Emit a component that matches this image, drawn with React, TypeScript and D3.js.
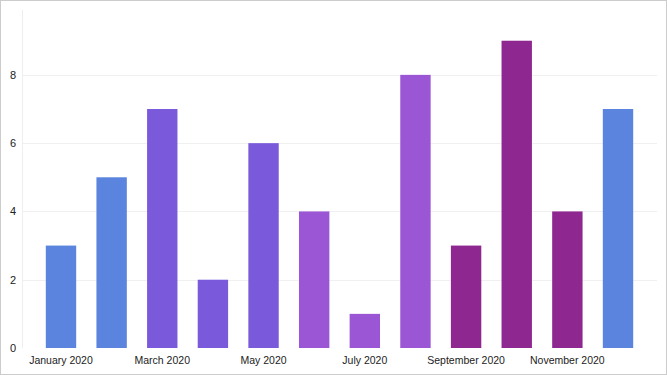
import React, {useEffect, useRef} from 'react';
import * as d3 from 'd3';

const months = ['January 2020', 'February 2020', 'March 2020', 'April 2020', 'May 2020', 'June 2020',
    'July 2020', 'August 2020', 'September 2020', 'October 2020', 'November 2020', 'December 2020']
const counts = [3, 5, 7, 2, 6, 4, 1, 8, 3, 9, 4, 7]
const seasons = ['winter', 'winter', 'spring', 'spring', 'spring', 'summer',
    'summer', 'summer', 'fall', 'fall', 'fall', 'winter']
const seasonColors = {winter: '#5a84de', spring: '#7a5adb', summer: '#9b56d5', fall: '#8f2790'}
const yTicks = [0, 2, 4, 6, 8]

const width = 667
const height = 375
const font = '"Liberation Sans", Arial, sans-serif'

const dimensions = {
    width: width,
    height: height,
    margin: {top: 10, right: 10, bottom: 27, left: 22}
}
const boundedWidth = dimensions.width - dimensions.margin.left - dimensions.margin.right
const boundedHeight = dimensions.height - dimensions.margin.top - dimensions.margin.bottom

const App = () => {

    const svgRef = useRef(null)

    useEffect(() => {
        document.body.style.margin = '0'

        const svg = d3.select(svgRef.current)
        svg.selectAll('*').remove()

        svg.append('rect')
            .attr('x', 0.5).attr('y', 0.5)
            .attr('width', width - 1).attr('height', height - 1)
            .attr('fill', '#fff')
            .attr('stroke', '#cccccc')

        const bounds = svg.append('g')
            .attr('transform', `translate(${dimensions.margin.left}, ${dimensions.margin.top})`)

        const yScale = d3.scaleLinear()
            .domain([0, d3.max(counts) * 1.1])
            .range([boundedHeight, 0])

        const xScale = d3.scaleBand()
            .domain(months)
            .range([0, boundedWidth])
            .paddingInner(0.4)
            .paddingOuter(0.47)

        // gridlines
        bounds.selectAll('.grid')
            .data(yTicks.filter(d => d > 0))
            .join('line')
            .attr('class', 'grid')
            .attr('x1', 0)
            .attr('x2', boundedWidth)
            .attr('y1', d => Math.round(yScale(d)) + 0.5)
            .attr('y2', d => Math.round(yScale(d)) + 0.5)
            .attr('stroke', '#f0f0f0')

        bounds.append('line')
            .attr('x1', 0.5).attr('x2', 0.5)
            .attr('y1', 0).attr('y2', boundedHeight)
            .attr('stroke', '#eeeeee')

        bounds.selectAll('.bar')
            .data(counts)
            .join('rect')
            .attr('class', 'bar')
            .attr('x', (d, i) => xScale(months[i]))
            .attr('width', xScale.bandwidth())
            .attr('y', d => yScale(d))
            .attr('height', d => boundedHeight - yScale(d))
            .attr('fill', (d, i) => seasonColors[seasons[i]])

        bounds.selectAll('.y-label')
            .data(yTicks)
            .join('text')
            .attr('class', 'y-label')
            .attr('x', -6)
            .attr('y', d => yScale(d))
            .attr('dy', '0.35em')
            .attr('text-anchor', 'end')
            .attr('font-family', font)
            .attr('font-size', 11)
            .attr('fill', '#222')
            .text(d => d)

        bounds.selectAll('.x-label')
            .data(months.filter((d, i) => i % 2 === 0))
            .join('text')
            .attr('class', 'x-label')
            .attr('x', d => xScale(d) + xScale.bandwidth() / 2)
            .attr('y', boundedHeight + 16)
            .attr('text-anchor', 'middle')
            .attr('font-family', font)
            .attr('font-size', 10.5)
            .attr('fill', '#222')
            .text(d => d)

    }, [])

    return (
        <div style={{position: 'absolute', left: 0, top: 0}}>
            <svg ref={svgRef} width={width} height={height} style={{display: 'block'}}/>
        </div>
    )
}

export default App
